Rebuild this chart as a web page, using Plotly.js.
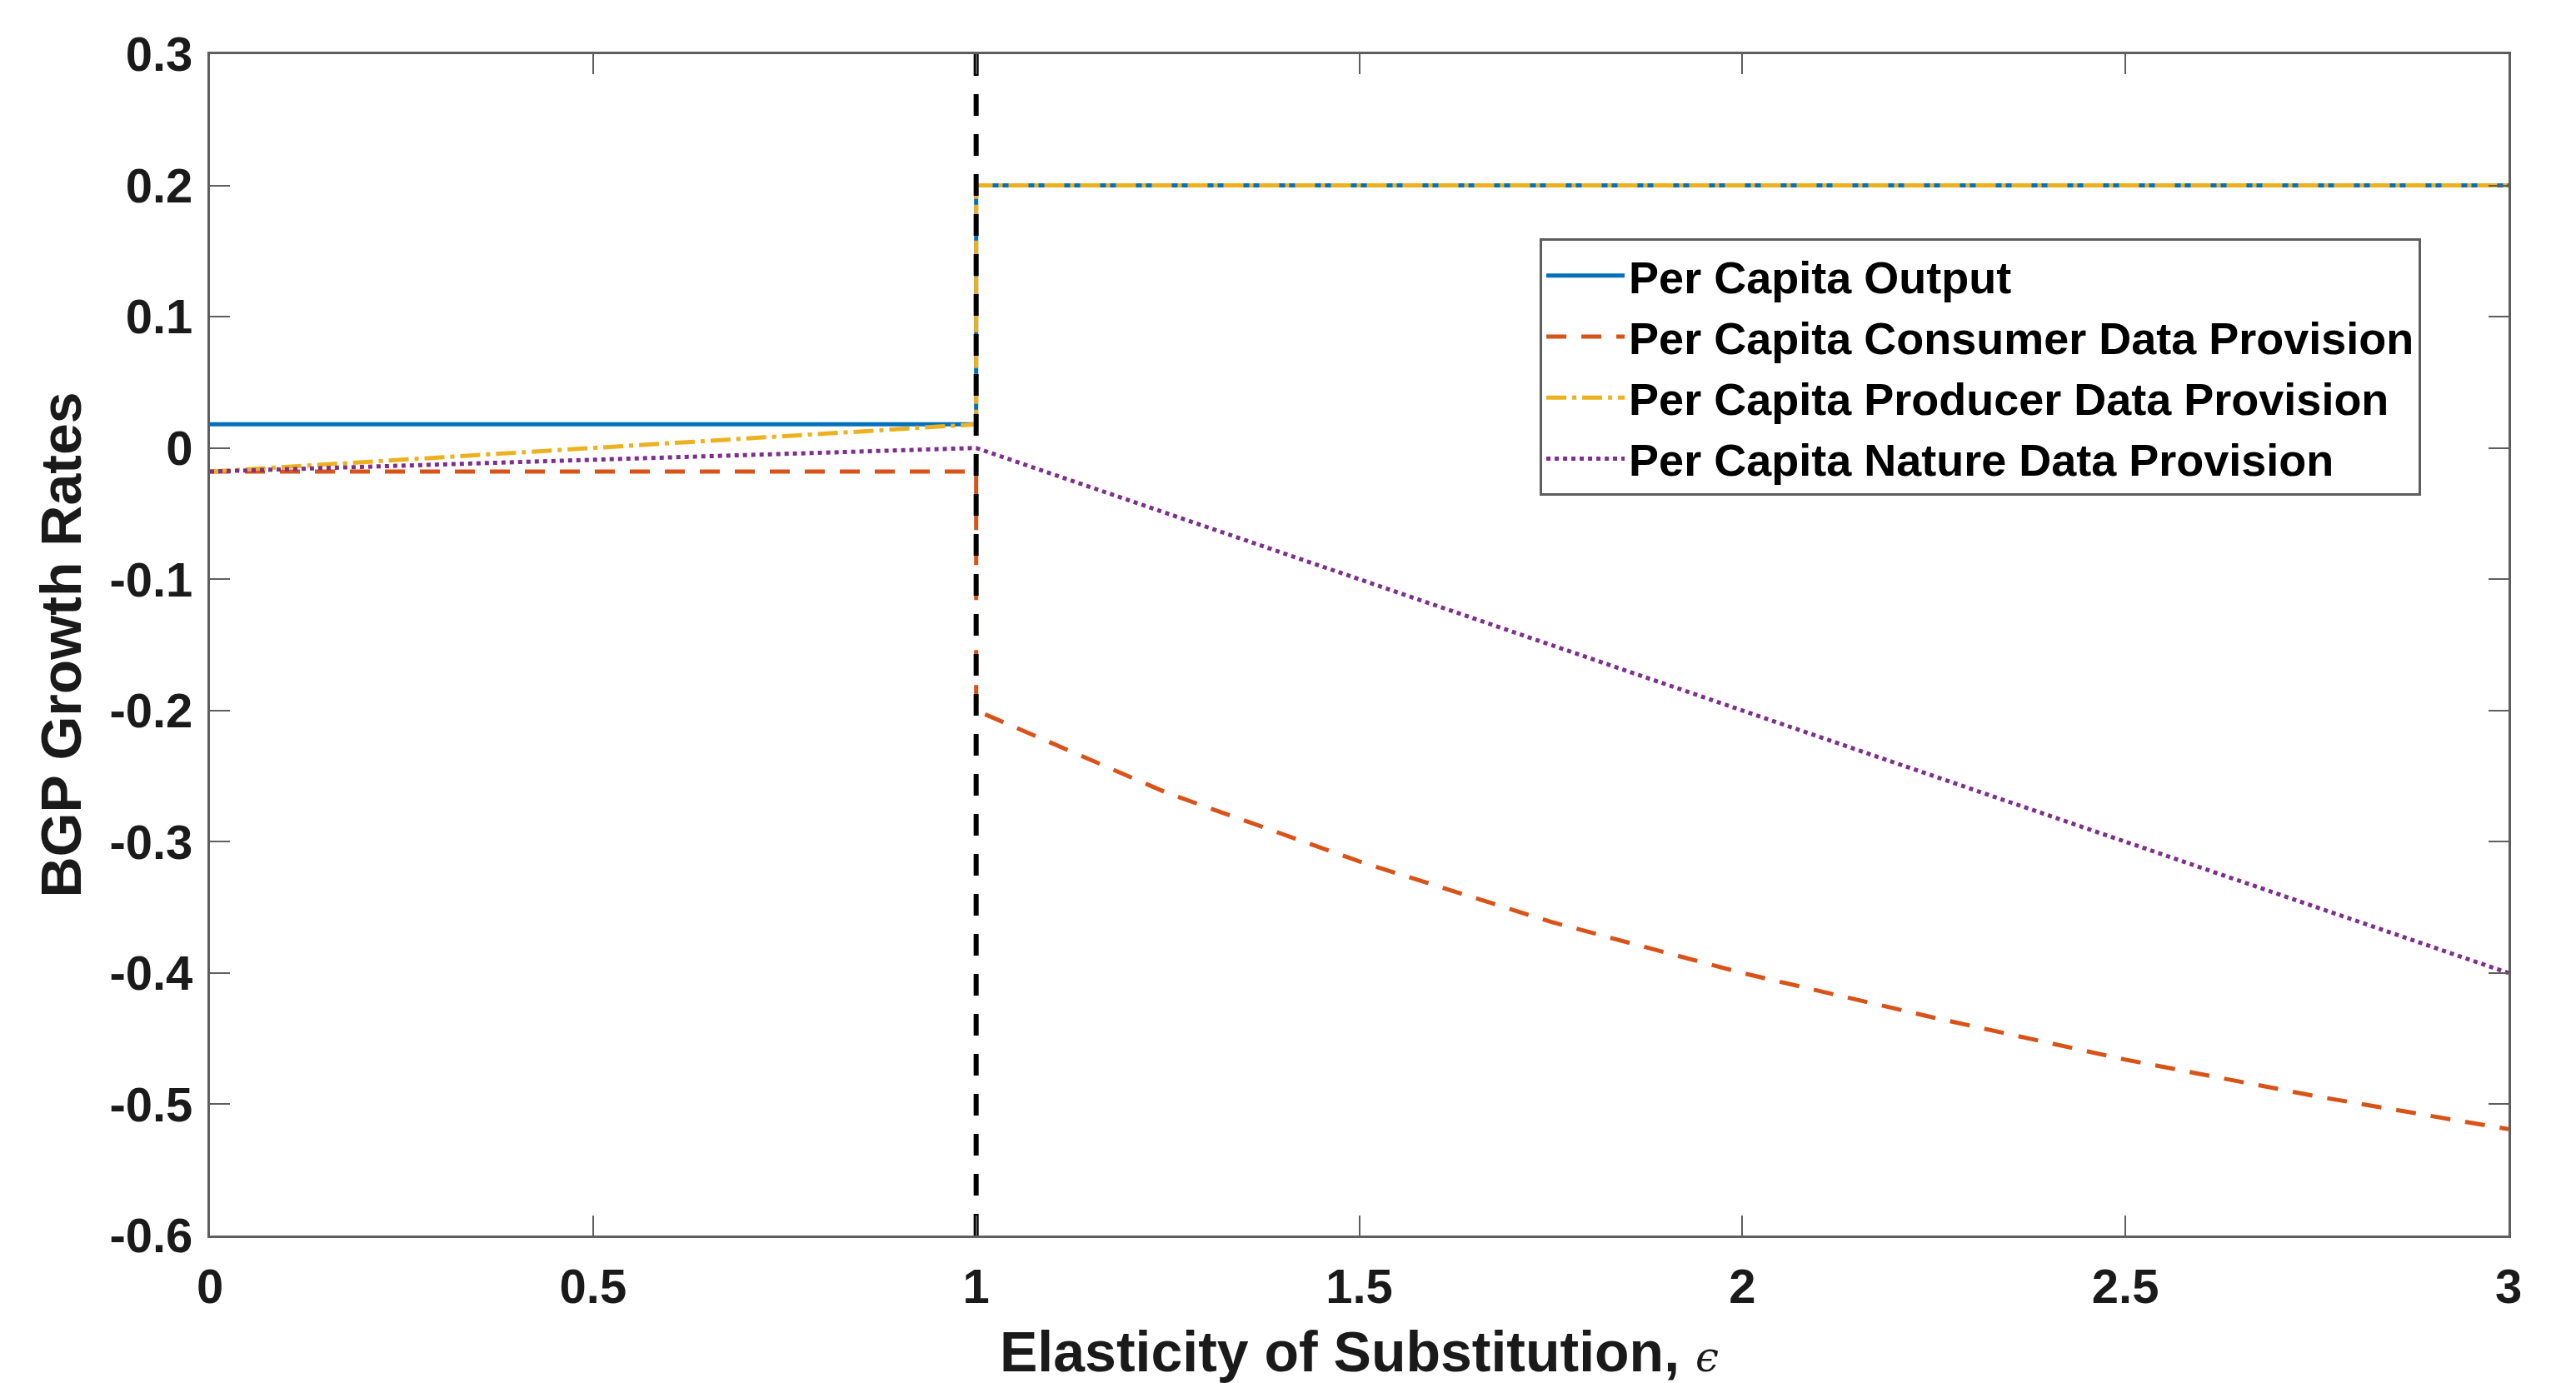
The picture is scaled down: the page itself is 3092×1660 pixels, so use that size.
<!DOCTYPE html>
<html>
<head>
<meta charset="utf-8">
<script src="https://cdn.plot.ly/plotly-3.0.1.min.js"></script>
<style>html,body{margin:0;padding:0;background:#fff;}#chart{width:3092px;height:1660px;}</style>
</head>
<body>
<div id="chart"></div>
<script>
// ---- data ----
const seriesNames = ["Per Capita Output", "Per Capita Consumer Data Provision", "Per Capita Producer Data Provision", "Per Capita Nature Data Provision"];

const outputX = [0, 1, 1, 3];
const outputY = [0.018, 0.018, 0.2, 0.2];

const consumerX = [0, 1, 1, 1.25, 1.5, 1.75, 2, 2.25, 2.5, 2.75, 3];
const consumerY = [-0.018, -0.018, -0.2, -0.263, -0.315, -0.361, -0.400, -0.434, -0.466, -0.494, -0.519];

const producerX = [0, 1, 1, 3];
const producerY = [-0.018, 0.018, 0.2, 0.2];

const natureX = [0, 1, 3];
const natureY = [-0.018, 0, -0.4];

const thresholdX = [1, 1];
const thresholdY = [-0.6, 0.3];

const xTicks = [0, 0.5, 1, 1.5, 2, 2.5, 3];
const xTickText = ["0", "0.5", "1", "1.5", "2", "2.5", "3"];
const yTicks = [0.3, 0.2, 0.1, 0, -0.1, -0.2, -0.3, -0.4, -0.5, -0.6];
const yTickText = ["0.3", "0.2", "0.1", "0", "-0.1", "-0.2", "-0.3", "-0.4", "-0.5", "-0.6"];

const xTitle = "Elasticity of Substitution, <span style=\"font-family:'DejaVu Serif';font-weight:normal;font-style:italic;font-size:50px\">ϵ</span>";
const yTitle = "BGP Growth Rates";

// ---- styling ----
const FONT = "Liberation Sans, Arial, Helvetica, sans-serif";
const axisColor = "#5e5e5e";

const traces = [
  {x: outputX, y: outputY, name: seriesNames[0], mode: "lines",
   line: {color: "#0072BD", width: 5, dash: "solid"}},
  {x: consumerX, y: consumerY, name: seriesNames[1], mode: "lines",
   line: {color: "#D95319", width: 5, dash: "24px,18px"}},
  {x: producerX, y: producerY, name: seriesNames[2], mode: "lines",
   line: {color: "#EDB120", width: 5, dash: "24px,7px,5px,7px"}},
  {x: natureX, y: natureY, name: seriesNames[3], mode: "lines",
   line: {color: "#7E2F8E", width: 5, dash: "5px,5px"}},
  {x: thresholdX, y: thresholdY, mode: "lines", showlegend: false, hoverinfo: "skip",
   line: {color: "#000000", width: 6, dash: "26px,22px"}}
];

const axisCommon = {
  showline: true, linecolor: axisColor, linewidth: 3, mirror: "ticks",
  ticks: "inside", ticklen: 24, tickwidth: 2, tickcolor: axisColor,
  showgrid: false, zeroline: false,
  tickfont: {family: FONT, size: 58, color: "#1a1a1a", weight: "bold"}
};

const layout = {
  width: 3092, height: 1660,
  paper_bgcolor: "#ffffff", plot_bgcolor: "#ffffff",
  margin: {l: 252, r: 81, t: 65, b: 177},
  showlegend: true,
  xaxis: Object.assign({}, axisCommon, {
    range: [0, 3], tickmode: "array", tickvals: xTicks, ticktext: xTickText,
    ticklabelstandoff: 8,
    title: {text: xTitle, font: {family: FONT, size: 68, color: "#1a1a1a", weight: "bold"}, standoff: 31}
  }),
  yaxis: Object.assign({}, axisCommon, {
    range: [-0.6, 0.3], tickmode: "array", tickvals: yTicks, ticktext: yTickText,
    ticklabelstandoff: 6,
    title: {text: yTitle, font: {family: FONT, size: 68, color: "#1a1a1a", weight: "bold"}, standoff: 12}
  }),
  legend: {
    x: 0.5785, y: 0.8440, xanchor: "left", yanchor: "top",
    bgcolor: "#ffffff", bordercolor: "#5e5e5e", borderwidth: 3,
    font: {family: FONT, size: 54, color: "#000000", weight: "bold"},
    itemwidth: 94, tracegroupgap: 0
  }
};

Plotly.newPlot("chart", traces, layout, {displayModeBar: false, staticPlot: true});
</script>
</body>
</html>
